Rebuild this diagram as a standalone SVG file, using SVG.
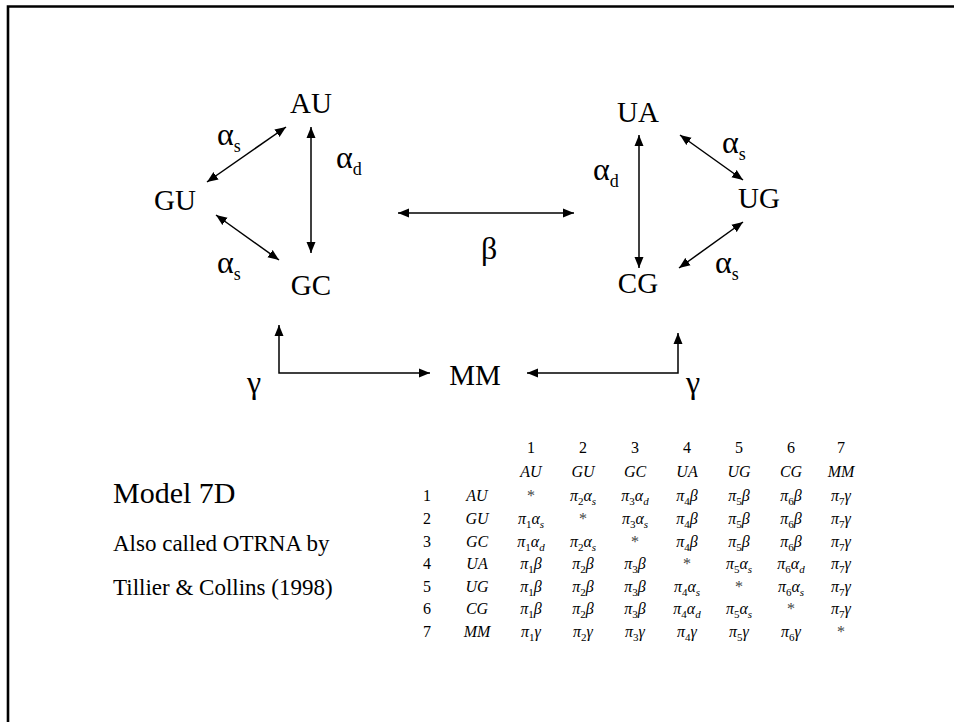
<svg xmlns="http://www.w3.org/2000/svg" width="954" height="722" viewBox="0 0 954 722">
  <style>
    text { font-family: "Liberation Serif", "Times New Roman", "DejaVu Serif", serif; fill: #000; }
    .node { font-size: 29px; text-anchor: middle; }
    .greek { font-size: 32px; }
    .gsub { font-size: 18px; }
    .note-title { font-size: 30px; }
    .note { font-size: 23px; }
    .tab { font-size: 16px; text-anchor: middle; }
    .it { font-style: italic; }
    .sub { font-size: 11px; }
    .n { font-style: normal; }
    .star { fill: #444; }
    .edge { stroke: #000; stroke-width: 1.5; fill: none; }
  </style>
  <defs>
    <marker id="head" markerUnits="userSpaceOnUse" markerWidth="12" markerHeight="10" refX="11" refY="4.5" orient="auto-start-reverse" viewBox="0 0 12 9">
      <path d="M0,0 L11,4.5 L0,9 z" fill="#000"/>
    </marker>
  </defs>

  <rect width="954" height="722" fill="#fff"/>
  <!-- frame: top and left edges only -->
  <path d="M8,722 V6.5 H954" stroke="#000" stroke-width="2.6" fill="none"/>

  <!-- nodes -->
  <g id="node-AU"><text class="node" x="311" y="113">AU</text></g>
  <g id="node-GU"><text class="node" x="175" y="210">GU</text></g>
  <g id="node-GC"><text class="node" x="311" y="295">GC</text></g>
  <g id="node-UA"><text class="node" x="638" y="122">UA</text></g>
  <g id="node-UG"><text class="node" x="759" y="208">UG</text></g>
  <g id="node-CG"><text class="node" x="638" y="293">CG</text></g>
  <g id="node-MM"><text class="node" x="475" y="385">MM</text></g>

  <!-- connectors -->
  <g id="connectors">
    <line class="edge" x1="286" y1="127" x2="207" y2="182" marker-start="url(#head)" marker-end="url(#head)"/>
    <line class="edge" x1="311" y1="127" x2="311" y2="253" marker-start="url(#head)" marker-end="url(#head)"/>
    <line class="edge" x1="216" y1="215" x2="279" y2="260" marker-start="url(#head)" marker-end="url(#head)"/>
    <line class="edge" x1="639" y1="135" x2="639" y2="268" marker-start="url(#head)" marker-end="url(#head)"/>
    <line class="edge" x1="680" y1="135" x2="743" y2="180" marker-start="url(#head)" marker-end="url(#head)"/>
    <line class="edge" x1="743" y1="222" x2="679" y2="268" marker-start="url(#head)" marker-end="url(#head)"/>
    <line class="edge" x1="398" y1="213" x2="574" y2="213" marker-start="url(#head)" marker-end="url(#head)"/>
    <path class="edge" d="M279,325 V373 H430" marker-start="url(#head)" marker-end="url(#head)"/>
    <path class="edge" d="M527,373 H678 V333" marker-start="url(#head)" marker-end="url(#head)"/>

    <!-- rate labels -->
    <text class="greek" x="217" y="145">α<tspan class="gsub" dy="7">s</tspan></text>
    <text class="greek" x="336" y="168">α<tspan class="gsub" dy="7">d</tspan></text>
    <text class="greek" x="217" y="273">α<tspan class="gsub" dy="7">s</tspan></text>
    <text class="greek" x="593" y="180">α<tspan class="gsub" dy="7">d</tspan></text>
    <text class="greek" x="722" y="153">α<tspan class="gsub" dy="7">s</tspan></text>
    <text class="greek" x="715" y="273">α<tspan class="gsub" dy="7">s</tspan></text>
    <text class="greek" x="481" y="259">β</text>
    <text class="greek" x="247" y="393">γ</text>
    <text class="greek" x="686" y="393">γ</text>
  </g>

  <!-- caption -->
  <g id="caption">
    <text class="note-title" x="113" y="503">Model 7D</text>
    <text class="note" x="113" y="551">Also called OTRNA by</text>
    <text class="note" x="113" y="595">Tillier &amp; Collins (1998)</text>
  </g>

  <!-- rate matrix -->
  <g id="matrix">
    <!-- column indices -->
    <text class="tab" x="531" y="453">1</text>
    <text class="tab" x="583" y="453">2</text>
    <text class="tab" x="635" y="453">3</text>
    <text class="tab" x="687" y="453">4</text>
    <text class="tab" x="739" y="453">5</text>
    <text class="tab" x="791" y="453">6</text>
    <text class="tab" x="841" y="453">7</text>
    <!-- column states -->
    <text class="tab it" x="531" y="477">AU</text>
    <text class="tab it" x="583" y="477">GU</text>
    <text class="tab it" x="635" y="477">GC</text>
    <text class="tab it" x="687" y="477">UA</text>
    <text class="tab it" x="739" y="477">UG</text>
    <text class="tab it" x="791" y="477">CG</text>
    <text class="tab it" x="841" y="477">MM</text>

    <!-- row 1 -->
    <text class="tab" x="427" y="501">1</text>
    <text class="tab it" x="477" y="501">AU</text>
    <text class="tab star" x="531" y="501">*</text>
    <text class="tab it" x="583" y="501">π<tspan class="sub n" dy="4">2</tspan><tspan dy="-4">α</tspan><tspan class="sub" dy="4">s</tspan></text>
    <text class="tab it" x="635" y="501">π<tspan class="sub n" dy="4">3</tspan><tspan dy="-4">α</tspan><tspan class="sub" dy="4">d</tspan></text>
    <text class="tab it" x="687" y="501">π<tspan class="sub n" dy="4">4</tspan><tspan dy="-4">β</tspan></text>
    <text class="tab it" x="739" y="501">π<tspan class="sub n" dy="4">5</tspan><tspan dy="-4">β</tspan></text>
    <text class="tab it" x="791" y="501">π<tspan class="sub n" dy="4">6</tspan><tspan dy="-4">β</tspan></text>
    <text class="tab it" x="841" y="501">π<tspan class="sub n" dy="4">7</tspan><tspan dy="-4">γ</tspan></text>

    <!-- row 2 -->
    <text class="tab" x="427" y="524">2</text>
    <text class="tab it" x="477" y="524">GU</text>
    <text class="tab it" x="531" y="524">π<tspan class="sub n" dy="4">1</tspan><tspan dy="-4">α</tspan><tspan class="sub" dy="4">s</tspan></text>
    <text class="tab star" x="583" y="524">*</text>
    <text class="tab it" x="635" y="524">π<tspan class="sub n" dy="4">3</tspan><tspan dy="-4">α</tspan><tspan class="sub" dy="4">s</tspan></text>
    <text class="tab it" x="687" y="524">π<tspan class="sub n" dy="4">4</tspan><tspan dy="-4">β</tspan></text>
    <text class="tab it" x="739" y="524">π<tspan class="sub n" dy="4">5</tspan><tspan dy="-4">β</tspan></text>
    <text class="tab it" x="791" y="524">π<tspan class="sub n" dy="4">6</tspan><tspan dy="-4">β</tspan></text>
    <text class="tab it" x="841" y="524">π<tspan class="sub n" dy="4">7</tspan><tspan dy="-4">γ</tspan></text>

    <!-- row 3 -->
    <text class="tab" x="427" y="547">3</text>
    <text class="tab it" x="477" y="547">GC</text>
    <text class="tab it" x="531" y="547">π<tspan class="sub n" dy="4">1</tspan><tspan dy="-4">α</tspan><tspan class="sub" dy="4">d</tspan></text>
    <text class="tab it" x="583" y="547">π<tspan class="sub n" dy="4">2</tspan><tspan dy="-4">α</tspan><tspan class="sub" dy="4">s</tspan></text>
    <text class="tab star" x="635" y="547">*</text>
    <text class="tab it" x="687" y="547">π<tspan class="sub n" dy="4">4</tspan><tspan dy="-4">β</tspan></text>
    <text class="tab it" x="739" y="547">π<tspan class="sub n" dy="4">5</tspan><tspan dy="-4">β</tspan></text>
    <text class="tab it" x="791" y="547">π<tspan class="sub n" dy="4">6</tspan><tspan dy="-4">β</tspan></text>
    <text class="tab it" x="841" y="547">π<tspan class="sub n" dy="4">7</tspan><tspan dy="-4">γ</tspan></text>

    <!-- row 4 -->
    <text class="tab" x="427" y="569">4</text>
    <text class="tab it" x="477" y="569">UA</text>
    <text class="tab it" x="531" y="569">π<tspan class="sub n" dy="4">1</tspan><tspan dy="-4">β</tspan></text>
    <text class="tab it" x="583" y="569">π<tspan class="sub n" dy="4">2</tspan><tspan dy="-4">β</tspan></text>
    <text class="tab it" x="635" y="569">π<tspan class="sub n" dy="4">3</tspan><tspan dy="-4">β</tspan></text>
    <text class="tab star" x="687" y="569">*</text>
    <text class="tab it" x="739" y="569">π<tspan class="sub n" dy="4">5</tspan><tspan dy="-4">α</tspan><tspan class="sub" dy="4">s</tspan></text>
    <text class="tab it" x="791" y="569">π<tspan class="sub n" dy="4">6</tspan><tspan dy="-4">α</tspan><tspan class="sub" dy="4">d</tspan></text>
    <text class="tab it" x="841" y="569">π<tspan class="sub n" dy="4">7</tspan><tspan dy="-4">γ</tspan></text>

    <!-- row 5 -->
    <text class="tab" x="427" y="592">5</text>
    <text class="tab it" x="477" y="592">UG</text>
    <text class="tab it" x="531" y="592">π<tspan class="sub n" dy="4">1</tspan><tspan dy="-4">β</tspan></text>
    <text class="tab it" x="583" y="592">π<tspan class="sub n" dy="4">2</tspan><tspan dy="-4">β</tspan></text>
    <text class="tab it" x="635" y="592">π<tspan class="sub n" dy="4">3</tspan><tspan dy="-4">β</tspan></text>
    <text class="tab it" x="687" y="592">π<tspan class="sub n" dy="4">4</tspan><tspan dy="-4">α</tspan><tspan class="sub" dy="4">s</tspan></text>
    <text class="tab star" x="739" y="592">*</text>
    <text class="tab it" x="791" y="592">π<tspan class="sub n" dy="4">6</tspan><tspan dy="-4">α</tspan><tspan class="sub" dy="4">s</tspan></text>
    <text class="tab it" x="841" y="592">π<tspan class="sub n" dy="4">7</tspan><tspan dy="-4">γ</tspan></text>

    <!-- row 6 -->
    <text class="tab" x="427" y="614">6</text>
    <text class="tab it" x="477" y="614">CG</text>
    <text class="tab it" x="531" y="614">π<tspan class="sub n" dy="4">1</tspan><tspan dy="-4">β</tspan></text>
    <text class="tab it" x="583" y="614">π<tspan class="sub n" dy="4">2</tspan><tspan dy="-4">β</tspan></text>
    <text class="tab it" x="635" y="614">π<tspan class="sub n" dy="4">3</tspan><tspan dy="-4">β</tspan></text>
    <text class="tab it" x="687" y="614">π<tspan class="sub n" dy="4">4</tspan><tspan dy="-4">α</tspan><tspan class="sub" dy="4">d</tspan></text>
    <text class="tab it" x="739" y="614">π<tspan class="sub n" dy="4">5</tspan><tspan dy="-4">α</tspan><tspan class="sub" dy="4">s</tspan></text>
    <text class="tab star" x="791" y="614">*</text>
    <text class="tab it" x="841" y="614">π<tspan class="sub n" dy="4">7</tspan><tspan dy="-4">γ</tspan></text>

    <!-- row 7 -->
    <text class="tab" x="427" y="637">7</text>
    <text class="tab it" x="477" y="637">MM</text>
    <text class="tab it" x="531" y="637">π<tspan class="sub n" dy="4">1</tspan><tspan dy="-4">γ</tspan></text>
    <text class="tab it" x="583" y="637">π<tspan class="sub n" dy="4">2</tspan><tspan dy="-4">γ</tspan></text>
    <text class="tab it" x="635" y="637">π<tspan class="sub n" dy="4">3</tspan><tspan dy="-4">γ</tspan></text>
    <text class="tab it" x="687" y="637">π<tspan class="sub n" dy="4">4</tspan><tspan dy="-4">γ</tspan></text>
    <text class="tab it" x="739" y="637">π<tspan class="sub n" dy="4">5</tspan><tspan dy="-4">γ</tspan></text>
    <text class="tab it" x="791" y="637">π<tspan class="sub n" dy="4">6</tspan><tspan dy="-4">γ</tspan></text>
    <text class="tab star" x="841" y="637">*</text>
  </g>
</svg>
